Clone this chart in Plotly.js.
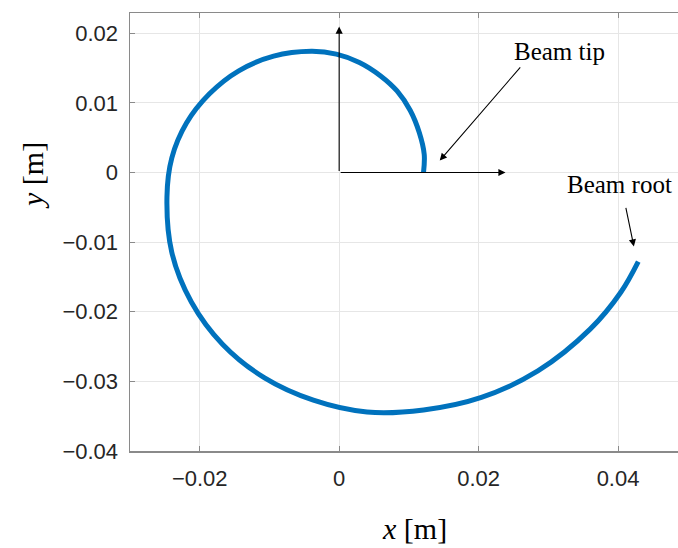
<!DOCTYPE html>
<html>
<head>
<meta charset="utf-8">
<script src="https://cdn.plot.ly/plotly-3.0.1.min.js"></script>
<style>
  html, body { margin: 0; padding: 0; background: #ffffff; }
  #plot { width: 678px; height: 548px; }
</style>
</head>
<body>
<div id="plot"></div>
<script>
// Beam centreline in the deformed configuration, from the tip to the root [m]
const beamX = [0.0121, 0.0122, 0.0115, 0.0102, 0.0083, 0.0059, 0.0029, -0.0004, -0.0040,
               -0.0094, -0.0144, -0.0186, -0.0219, -0.0240, -0.0247, -0.0240, -0.0212,
               -0.0167, -0.0107, -0.0037, 0.0040, 0.0121, 0.0204, 0.0285,
               0.0360, 0.0404, 0.0429];
const beamY = [0.0000, 0.0026, 0.0057, 0.0089, 0.0117, 0.0139, 0.0158, 0.0170, 0.0174,
               0.0167, 0.0146, 0.0113, 0.0071, 0.0021, -0.0035, -0.0115, -0.0186,
               -0.0247, -0.0295, -0.0327, -0.0344, -0.0341, -0.0323, -0.0285,
               -0.0225, -0.0172, -0.0128];

// Axis ticks
const xTicks = [-0.02, 0, 0.02, 0.04];
const xTickLabels = ['\u22120.02', '0', '0.02', '0.04'];
const yTicks = [-0.04, -0.03, -0.02, -0.01, 0, 0.01, 0.02];
const yTickLabels = ['\u22120.04', '\u22120.03', '\u22120.02', '\u22120.01', '0', '0.01', '0.02'];

// Labels
const tipLabel = 'Beam tip';
const rootLabel = 'Beam root';
const xLabel = '<i>x</i> [m]';
const yLabel = '<i>y</i> [m]';

const serif = 'Liberation Serif, Times New Roman, serif';
const sans = 'Liberation Sans, Arial, sans-serif';
const axisGray = '#8a8a8a';

const trace = {
  x: beamX, y: beamY,
  type: 'scatter', mode: 'lines',
  line: { color: '#0072BD', width: 5, shape: 'spline', smoothing: 1 },
  hoverinfo: 'skip'
};

function arrow(x, y, ax, ay, head) {
  return {
    x: x, y: y, ax: ax, ay: ay,
    xref: 'x', yref: 'y', axref: 'x', ayref: 'y',
    text: '', showarrow: true,
    arrowhead: head, arrowsize: 1.3, arrowwidth: 1.1, arrowcolor: '#000000'
  };
}

const layout = {
  width: 678, height: 548,
  margin: { l: 130, r: 0, t: 13, b: 97, pad: 0 },
  paper_bgcolor: '#ffffff', plot_bgcolor: '#ffffff',
  showlegend: false,
  xaxis: {
    range: [-0.03, 0.0486],
    tickvals: xTicks, ticktext: xTickLabels,
    showgrid: true, gridcolor: '#e6e6e6', gridwidth: 1,
    zeroline: false,
    showline: true, linecolor: axisGray, linewidth: 1.5, mirror: 'ticks',
    ticks: 'inside', ticklen: 5, tickcolor: axisGray, tickwidth: 1,
    tickfont: { family: sans, size: 22, color: '#262626' },
    ticklabelstandoff: 7
  },
  yaxis: {
    range: [-0.04, 0.0229],
    tickvals: yTicks, ticktext: yTickLabels,
    showgrid: true, gridcolor: '#e6e6e6', gridwidth: 1,
    zeroline: false,
    showline: true, linecolor: axisGray, linewidth: 1.5, mirror: false,
    ticks: 'inside', ticklen: 5, tickcolor: axisGray, tickwidth: 1,
    tickfont: { family: sans, size: 22, color: '#262626' },
    ticklabelstandoff: 6
  },
  annotations: [
    // local reference frame at the tip
    arrow(0, 0.02095, 0, 0, 2),
    arrow(0.02386, 0, 0, 0, 2),
    // pointers
    arrow(0.01443, 0.00172, 0.02616, 0.01531, 2),
    arrow(0.04227, -0.01062, 0.04108, -0.00488, 2),
    { x: 0.03167, y: 0.01735, xref: 'x', yref: 'y', text: tipLabel, showarrow: false,
      xanchor: 'center', yanchor: 'middle', font: { family: serif, size: 25, color: '#000000' } },
    { x: 0.04021, y: -0.00176, xref: 'x', yref: 'y', text: rootLabel, showarrow: false,
      xanchor: 'center', yanchor: 'middle', font: { family: serif, size: 25, color: '#000000' } },
    { x: 0.520, y: -0.178, xref: 'paper', yref: 'paper', text: xLabel, showarrow: false,
      xanchor: 'center', yanchor: 'middle', font: { family: serif, size: 30, color: '#000000' } },
    { x: -0.179, y: 0.630, xref: 'paper', yref: 'paper', text: yLabel, showarrow: false,
      textangle: -90, xanchor: 'center', yanchor: 'middle',
      font: { family: serif, size: 30, color: '#000000' } }
  ]
};

Plotly.newPlot('plot', [trace], layout, { displayModeBar: false, staticPlot: true });
</script>
</body>
</html>
